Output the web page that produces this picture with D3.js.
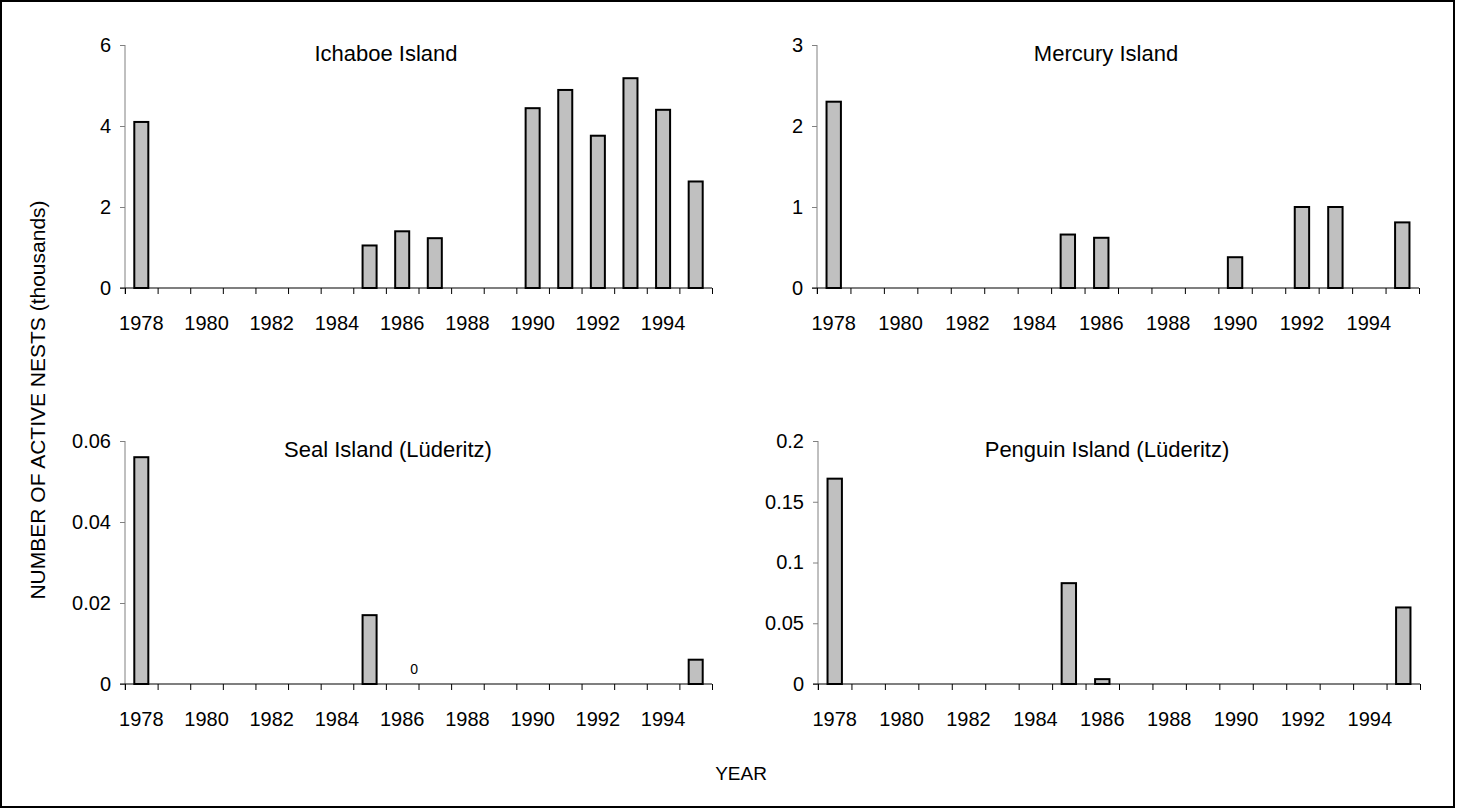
<!DOCTYPE html>
<html>
<head>
<meta charset="utf-8">
<script src="https://cdn.jsdelivr.net/npm/d3@7"></script>
<style>
  html, body { margin: 0; padding: 0; background: #fff; }
  svg { display: block; font-family: "Liberation Sans", Arial, sans-serif; }
</style>
</head>
<body>
<svg id="chart" width="1457" height="812"></svg>
<script>
// Breeding years surveyed
const years = [1978, 1979, 1980, 1981, 1982, 1983, 1984, 1985, 1986,
               1987, 1988, 1989, 1990, 1991, 1992, 1993, 1994, 1995];
const yearLabels = [1978, 1980, 1982, 1984, 1986, 1988, 1990, 1992, 1994];

// Active nests (thousands); null = no count for that year
const ichaboe = [4.1, null, null, null, null, null, null, 1.05, 1.4,
                 1.23, null, null, 4.44, 4.89, 3.76, 5.18, 4.4, 2.63];
const mercury = [2.3, null, null, null, null, null, null, 0.66, 0.62,
                 null, null, null, 0.38, null, 1.0, 1.0, null, 0.81];
const seal    = [0.056, null, null, null, null, null, null, 0.017, 0,
                 null, null, null, null, null, null, null, null, 0.006];
const penguin = [0.169, null, null, null, null, null, null, 0.083, 0.004,
                 null, null, null, null, null, null, null, null, 0.063];

// Y-axis tick values per island
const ichaboeTicks = [0, 2, 4, 6];
const mercuryTicks = [0, 1, 2, 3];
const sealTicks    = [0, 0.02, 0.04, 0.06];
const penguinTicks = [0, 0.05, 0.1, 0.15, 0.2];

// Years whose zero count is written on the chart
const sealZeroLabels = [1986];

const panels = [
  { title: "Ichaboe Island", values: ichaboe, ticks: ichaboeTicks,
    left: 125, right: 712, top: 45, bottom: 288, titleX: 386 },
  { title: "Mercury Island", values: mercury, ticks: mercuryTicks,
    left: 817, right: 1419, top: 45, bottom: 288, titleX: 1106 },
  { title: "Seal Island (Lüderitz)", values: seal, ticks: sealTicks,
    left: 125, right: 712, top: 441, bottom: 684, titleX: 388, zeroLabels: sealZeroLabels },
  { title: "Penguin Island (Lüderitz)", values: penguin, ticks: penguinTicks,
    left: 818, right: 1420, top: 441, bottom: 684, titleX: 1107 }
];

const svg = d3.select("#chart");

// outer frame
svg.append("rect")
  .attr("x", 1).attr("y", 1)
  .attr("width", 1453).attr("height", 806)
  .attr("fill", "none").attr("stroke", "#000").attr("stroke-width", 2);

const tickFont = 20;

panels.forEach(p => {
  const g = svg.append("g");

  const x = d3.scaleBand().domain(years).range([p.left, p.right]).padding(0);
  const edge = d3.scaleLinear().domain([0, years.length]).range([p.left, p.right]);
  const y = d3.scaleLinear()
    .domain([0, p.ticks[p.ticks.length - 1]])
    .range([p.bottom, p.top]);

  // y axis (grey line and outward ticks)
  const yAxis = g.append("g")
    .attr("transform", `translate(${p.left},0)`)
    .call(d3.axisLeft(y).tickValues(p.ticks).tickSize(5).tickPadding(9)
      .tickFormat(d => String(d)));
  yAxis.select(".domain").attr("stroke", "#808080").attr("d", `M0,${p.top}V${p.bottom + 6}`);
  yAxis.selectAll(".tick line").attr("stroke", "#808080");
  yAxis.selectAll("text")
    .attr("font-size", tickFont).attr("fill", "#000")
    .attr("font-family", "Liberation Sans, Arial, sans-serif");

  // bars
  const bw = x.bandwidth() * 0.43;
  const barData = years.map((yr, i) => ({ yr, v: p.values[i] }))
    .filter(d => d.v !== null && d.v > 0);
  g.selectAll("rect.bar").data(barData).enter().append("rect")
    .attr("class", "bar")
    .attr("x", d => x(d.yr) + (x.bandwidth() - bw) / 2)
    .attr("width", bw)
    .attr("y", d => y(d.v))
    .attr("height", d => y(0) - y(d.v))
    .attr("fill", "#c0c0c0")
    .attr("stroke", "#000")
    .attr("stroke-width", 2);

  // x axis: boundary ticks between the year categories
  const xTicks = g.append("g")
    .attr("transform", `translate(0,${p.bottom})`)
    .call(d3.axisBottom(edge).tickValues(d3.range(years.length + 1))
      .tickSize(6).tickFormat(""));
  xTicks.select(".domain").attr("stroke", "#000").attr("stroke-width", 1.2)
    .attr("d", `M${p.left - 5},0H${p.right}`);
  xTicks.selectAll(".tick line").attr("stroke", "#000");

  // year labels centred on the categories
  const xLabels = g.append("g")
    .attr("transform", `translate(0,${p.bottom})`)
    .call(d3.axisBottom(x).tickValues(yearLabels).tickSize(0).tickPadding(28));
  xLabels.select(".domain").remove();
  xLabels.selectAll("text")
    .attr("font-size", tickFont).attr("fill", "#000")
    .attr("font-family", "Liberation Sans, Arial, sans-serif");

  // zero-count labels
  if (p.zeroLabels) {
    g.selectAll("text.zero").data(p.zeroLabels).enter().append("text")
      .attr("class", "zero")
      .attr("x", d => x(d) + x.bandwidth() * 0.87)
      .attr("y", d => y(p.values[years.indexOf(d)]) - 15)
      .attr("dy", "0.35em")
      .attr("text-anchor", "middle")
      .attr("font-size", 14)
      .text(d => String(p.values[years.indexOf(d)]));
  }

  // panel title
  g.append("text")
    .attr("x", p.titleX)
    .attr("y", p.top + 8)
    .attr("dy", "0.35em")
    .attr("text-anchor", "middle")
    .attr("font-size", 22)
    .text(p.title);
});

// shared axis titles
svg.append("text")
  .attr("transform", "translate(38,400) rotate(-90)")
  .attr("dy", "0.35em")
  .attr("text-anchor", "middle")
  .attr("font-size", 21)
  .text("NUMBER OF ACTIVE NESTS (thousands)");

svg.append("text")
  .attr("x", 741).attr("y", 773)
  .attr("dy", "0.35em")
  .attr("text-anchor", "middle")
  .attr("font-size", 19)
  .text("YEAR");
</script>
</body>
</html>
